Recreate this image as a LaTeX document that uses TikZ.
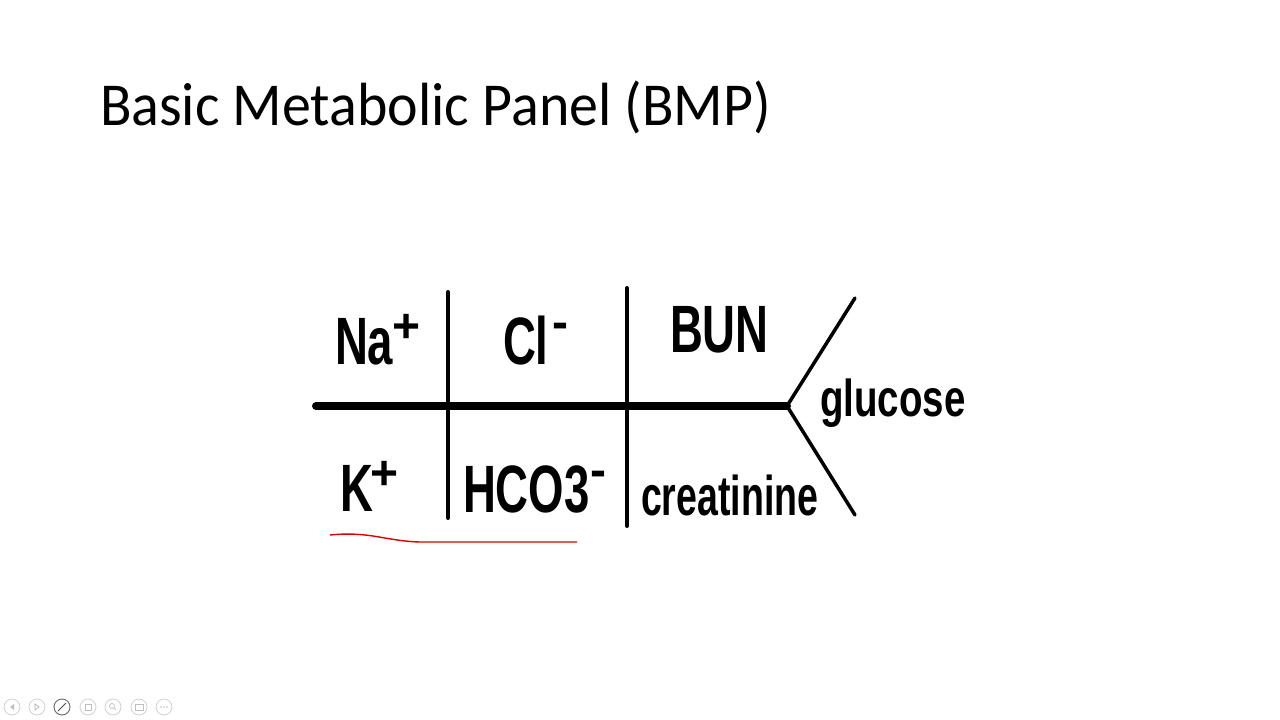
\documentclass[tikz,border=0pt]{standalone}
\usepackage{fontspec}
\setmainfont{Liberation Sans}
\newfontfamily\titlefont{Carlito}
\newfontfamily\labfont{Liberation Sans}[UprightFont=* Bold]
\newcommand{\lab}[3]{\scalebox{#1}[1]{\fontsize{#2}{#2}\labfont #3}}
\newcommand{\supr}[2]{\raisebox{#1}{\fontsize{48}{48}\labfont #2}}
\begin{document}
\begin{tikzpicture}[x=1pt,y=-1pt,
  thinbar/.style={line width=4pt,line cap=round},
  mainbar/.style={line width=8pt,line cap=round},
  lbl/.style={anchor=base west,inner sep=0pt,outer sep=0pt},
  icon/.style={draw=black!18,line width=0.8pt,circle,minimum size=16pt,inner sep=0pt}]
\useasboundingbox[fill=white] (0,0) rectangle (1280,720);
% title
\node[lbl] (title) at (100,125) {\scalebox{0.95}[1]{\fontsize{61}{61}\titlefont Basic Metabolic Panel (BMP)}};
% skeleton coordinates
\coordinate (hl) at (316,406);
\coordinate (fork) at (787,406);
\coordinate (v1t) at (448,292);
\coordinate (v1b) at (448,518);
\coordinate (v2t) at (627,288);
\coordinate (v2b) at (627,526);
\coordinate (up) at (855,298);
\coordinate (dn) at (855,515);
\draw[mainbar] (hl) -- (fork);
\draw[thinbar] (v1t) -- (v1b);
\draw[thinbar] (v2t) -- (v2b);
\draw[thinbar,line width=3.5pt] (fork) -- (up);
\draw[thinbar,line width=3.5pt] (fork) -- (dn);
% labels
\node[lbl] (na) at (335,364) {\lab{0.68}{67}{Na}\hspace{-1pt}\supr{22pt}{+}};
\node[lbl] (cl) at (503,364) {\lab{0.68}{67}{Cl}\hspace{4pt}\supr{26pt}{-}};
\node[lbl] (bun) at (670,352) {\lab{0.68}{67}{BUN}};
\node[lbl] (k) at (340,511) {\lab{0.68}{67}{K}\hspace{-2pt}\supr{22pt}{+}};
\node[lbl] (hco) at (463,512) {\lab{0.68}{67}{HCO3}\hspace{1pt}\supr{26pt}{-}};
\node[lbl] (crea) at (641,515) {\lab{0.67}{56}{creatinine}};
\node[lbl] (glu) at (820,416) {\lab{0.74}{52}{glucose}};
% red underline
\coordinate (r1) at (330,535);
\coordinate (r2) at (420,542);
\coordinate (r3) at (577,542);
\draw[red!85!black,line width=1.4pt] (r1) .. controls (370,531) and (385,541) .. (r2) -- (r3);
% slideshow toolbar
\foreach \i/\x in {1/12,2/37,3/62,4/88,5/113,6/139,7/164}{
  \node[icon] (ic\i) at (\x,707) {};
}
\node[icon,draw=black!60] at (62,707) {};
\fill[black!25] (10,707) -- (14,704) -- (14,710) -- cycle;
\draw[black!30,line width=0.7pt] (35,704) -- (39,707) -- (35,710) -- cycle;
\draw[black!70,line width=1pt] (58,711) -- (66,703);
\draw[black!25,line width=0.7pt] (85,704) rectangle (91,710);
\draw[black!25,line width=0.7pt] (112,706) circle (2.5pt) (114,708) -- (116,710);
\draw[black!25,line width=0.7pt] (135,704) rectangle (143,710);
\fill[black!25] (161,707) circle (0.8pt) (164,707) circle (0.8pt) (167,707) circle (0.8pt);
\end{tikzpicture}
\end{document}
